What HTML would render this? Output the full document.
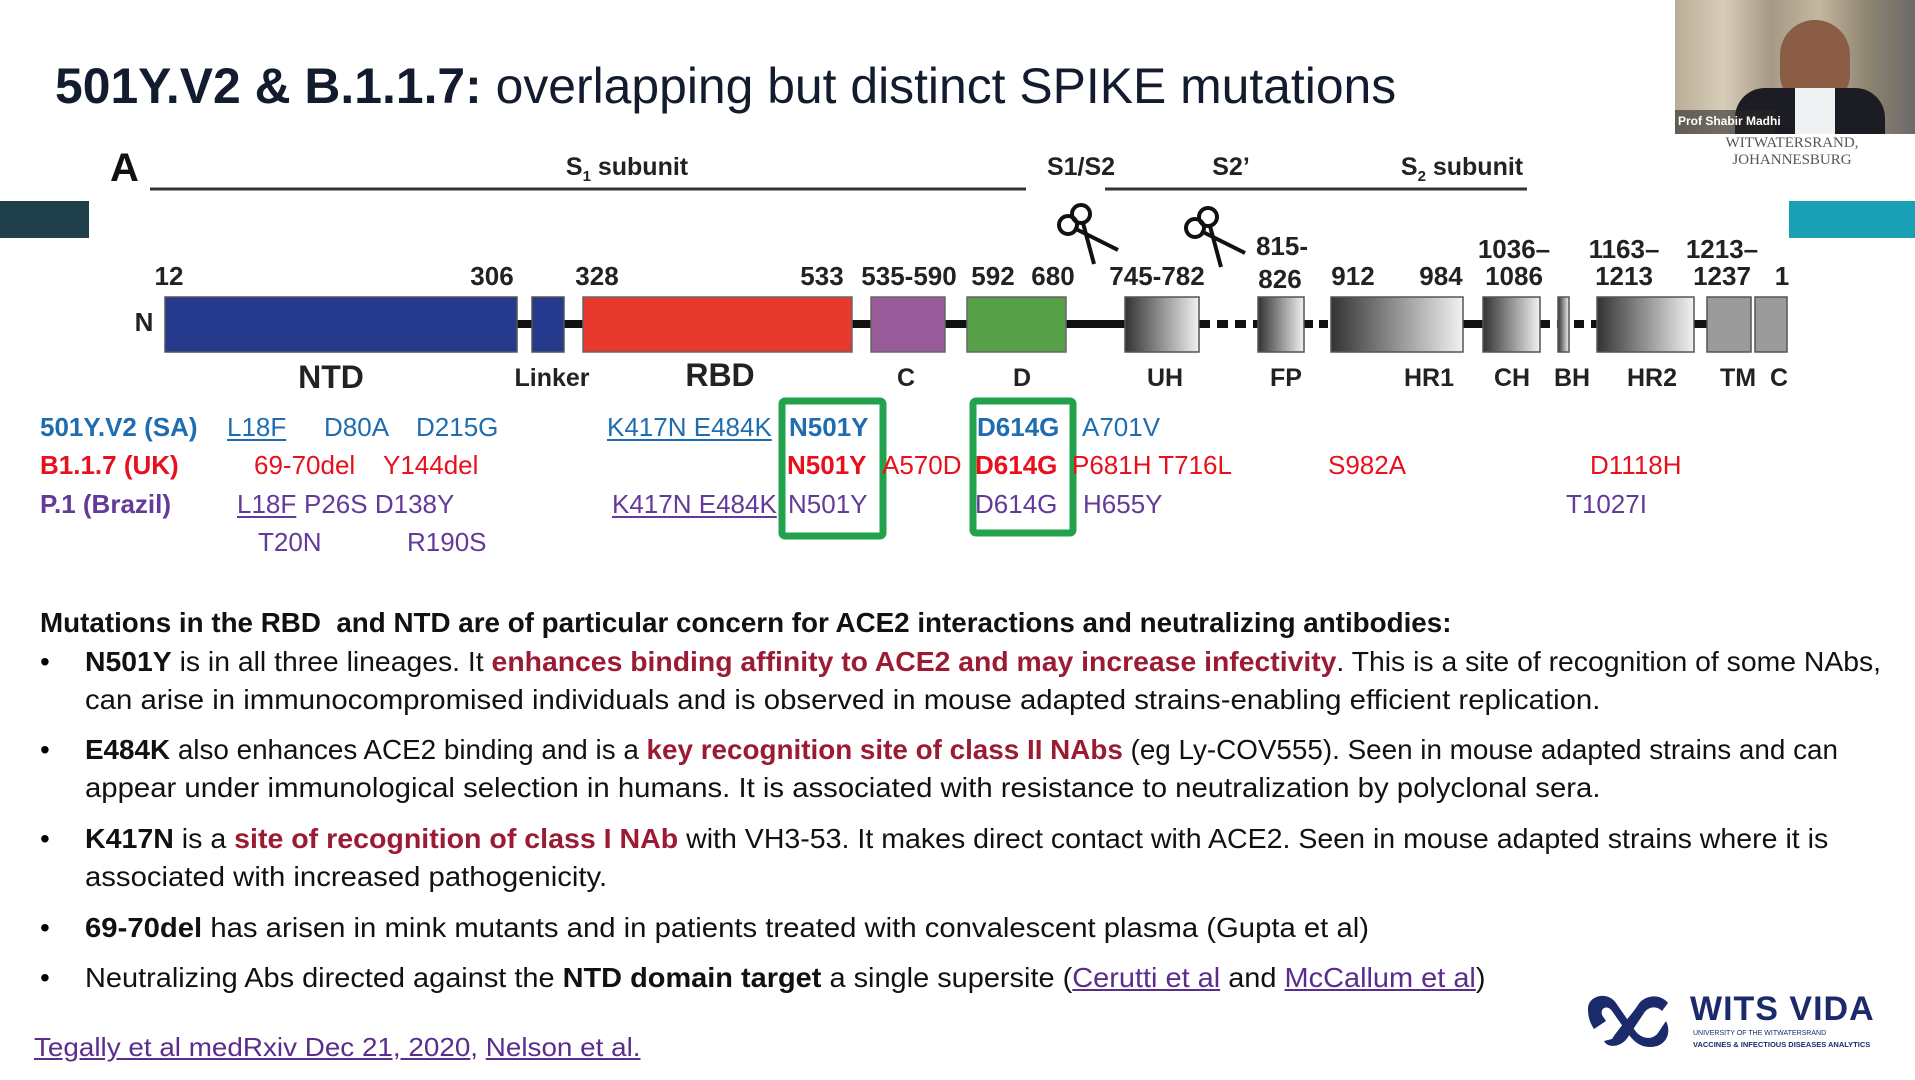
<!DOCTYPE html>
<html><head><meta charset="utf-8">
<style>
html,body{margin:0;padding:0;background:#fff;}
body{width:1915px;height:1080px;position:relative;overflow:hidden;font-family:"Liberation Sans",sans-serif;}
.a{position:absolute;white-space:nowrap;}
.fit{position:absolute;white-space:nowrap;transform-origin:0 50%;}
.m{position:absolute;white-space:nowrap;font-size:26px;line-height:30px;}
.sa{color:#1f6db0}.uk{color:#e8101c}.br{color:#643a98}
.u{text-decoration:underline;text-underline-offset:3px;}
.b{font-weight:bold}
.body{font-size:28px;line-height:34px;color:#111;}
.dr{color:#9b1b33;font-weight:bold}
.bul{position:absolute;left:40px;font-size:28px;line-height:34px;}
.lnk{color:#5a2d8c;text-decoration:underline;}
</style></head><body>

<div class="fit" id="title" style="left:55px;top:58px;font-size:50px;line-height:56px;color:#131c2e;--w:1341px"><b>501Y.V2 &amp; B.1.1.7:</b> overlapping but distinct SPIKE mutations</div>

<div class="a" style="left:0;top:201px;width:89px;height:37px;background:#1f3f4a"></div>
<div class="a" style="left:1789px;top:201px;width:126px;height:37px;background:#1aa0b5"></div>

<!-- video -->
<div class="a" style="left:1675px;top:0;width:240px;height:134px;background:linear-gradient(90deg,#b9ad97 0%,#d8cdb8 20%,#a69a86 40%,#c4b7a0 60%,#8e8470 80%,#6b6a6a 100%)"></div>
<div class="a" style="left:1780px;top:20px;width:70px;height:85px;border-radius:35px 35px 30px 30px;background:#8a5d44"></div>
<div class="a" style="left:1735px;top:88px;width:150px;height:46px;border-radius:30px 30px 0 0;background:#1c1d24"></div>
<div class="a" style="left:1795px;top:88px;width:40px;height:46px;background:#eef0f2"></div>
<div class="a" style="left:1675px;top:110px;width:100px;height:24px;background:rgba(40,40,40,.6)"></div>
<div class="a" style="left:1678px;top:114px;font-size:12px;font-weight:bold;color:#fff">Prof Shabir Madhi</div>
<div class="a" style="left:1712px;top:135px;font-family:'Liberation Serif',serif;font-size:15px;color:#555;line-height:17px;text-align:center;width:160px">WITWATERSRAND,<br>JOHANNESBURG</div>

<svg class="a" style="left:0;top:0" width="1915" height="560" viewBox="0 0 1915 560">
<defs>
<linearGradient id="g" x1="0" x2="1" y1="0" y2="0"><stop offset="0" stop-color="#333"/><stop offset="1" stop-color="#f2f2f2"/></linearGradient>
</defs>
<text x="110" y="181" font-family="Liberation Sans" font-weight="bold" font-size="40" fill="#111">A</text>
<line x1="150" y1="189" x2="1026" y2="189" stroke="#333" stroke-width="3"/>
<line x1="1105" y1="189" x2="1527" y2="189" stroke="#333" stroke-width="3"/>
<g font-family="Liberation Sans" font-weight="bold" font-size="25" fill="#222" text-anchor="middle">
<text x="627" y="175">S<tspan font-size="15" dy="6">1</tspan><tspan dy="-6"> subunit</tspan></text>
<text x="1081" y="175">S1/S2</text>
<text x="1231" y="175">S2’</text>
<text x="1462" y="175">S<tspan font-size="15" dy="6">2</tspan><tspan dy="-6"> subunit</tspan></text>
</g>
<!-- backbone -->
<line x1="517" y1="324" x2="1125" y2="324" stroke="#111" stroke-width="8"/>
<line x1="1199" y1="324" x2="1258" y2="324" stroke="#111" stroke-width="8" stroke-dasharray="11,7"/>
<line x1="1304" y1="324" x2="1331" y2="324" stroke="#111" stroke-width="8" stroke-dasharray="9,6"/>
<line x1="1463" y1="324" x2="1483" y2="324" stroke="#111" stroke-width="8"/>
<line x1="1540" y1="324" x2="1597" y2="324" stroke="#111" stroke-width="8" stroke-dasharray="10,7"/>
<line x1="1694" y1="324" x2="1707" y2="324" stroke="#111" stroke-width="8"/>
<!-- domains -->
<rect x="165" y="297" width="352" height="55" fill="#253a8c" stroke="#555" stroke-width="1.5"/>
<rect x="532" y="297" width="32" height="55" fill="#253a8c" stroke="#555" stroke-width="1.5"/>
<rect x="583" y="297" width="269" height="55" fill="#e8392e" stroke="#666" stroke-width="1.5"/>
<rect x="871" y="297" width="74" height="55" fill="#9a5b9b" stroke="#666" stroke-width="1.5"/>
<rect x="967" y="297" width="99" height="55" fill="#56a047" stroke="#666" stroke-width="1.5"/>
<g fill="url(#g)" stroke="#555" stroke-width="1.5">
<rect x="1125" y="297" width="74" height="55"/>
<rect x="1258" y="297" width="46" height="55"/>
<rect x="1331" y="297" width="132" height="55"/>
<rect x="1483" y="297" width="57" height="55"/>
<rect x="1558" y="297" width="11" height="55"/>
<rect x="1597" y="297" width="97" height="55"/>
</g>
<rect x="1707" y="297" width="44" height="55" fill="#9b9b9b" stroke="#555" stroke-width="1.5"/>
<rect x="1755" y="297" width="32" height="55" fill="#9b9b9b" stroke="#555" stroke-width="1.5"/>
<!-- numbers -->
<g font-family="Liberation Sans" font-weight="bold" font-size="26" fill="#222" text-anchor="middle">
<text x="169" y="285">12</text><text x="492" y="285">306</text><text x="597" y="285">328</text>
<text x="822" y="285">533</text><text x="909" y="285">535-590</text><text x="993" y="285">592</text>
<text x="1053" y="285">680</text><text x="1157" y="285">745-782</text>
<text x="1282" y="255">815-</text><text x="1280" y="288">826</text>
<text x="1353" y="285">912</text><text x="1441" y="285">984</text>
<text x="1514" y="258">1036–</text><text x="1514" y="285">1086</text>
<text x="1624" y="258">1163–</text><text x="1624" y="285">1213</text>
<text x="1722" y="258">1213–</text><text x="1722" y="285">1237</text>
<text x="1782" y="285">1</text>
<text x="144" y="331">N</text>
<text x="331" y="388" font-size="32">NTD</text>
<text x="552" y="386" font-size="25">Linker</text>
<text x="720" y="386" font-size="32">RBD</text>
<text x="906" y="386" font-size="25">C</text><text x="1022" y="386" font-size="25">D</text>
<text x="1165" y="386" font-size="25">UH</text><text x="1286" y="386" font-size="25">FP</text>
<text x="1429" y="386" font-size="25">HR1</text><text x="1512" y="386" font-size="25">CH</text>
<text x="1572" y="386" font-size="25">BH</text><text x="1652" y="386" font-size="25">HR2</text>
<text x="1738" y="386" font-size="25">TM</text><text x="1779" y="386" font-size="25">C</text>
</g>
<!-- scissors -->
<g fill="none" stroke="#111" stroke-width="4">
<circle cx="1068" cy="225" r="9"/><circle cx="1081" cy="214" r="9"/>
<line x1="1074" y1="228" x2="1118" y2="250"/><line x1="1083" y1="223" x2="1094" y2="264"/>
<circle cx="1195" cy="228" r="9"/><circle cx="1208" cy="217" r="9"/>
<line x1="1201" y1="231" x2="1245" y2="253"/><line x1="1210" y1="226" x2="1221" y2="267"/>
</g>
<!-- green boxes -->
<rect x="782" y="401" width="101" height="135" fill="none" stroke="#22a24a" stroke-width="7" rx="3"/>
<rect x="973" y="401" width="100" height="132" fill="none" stroke="#22a24a" stroke-width="7" rx="3"/>
</svg>

<!-- mutation rows -->
<div class="m sa b" style="left:40px;top:412px">501Y.V2 (SA)</div>
<div class="m sa u" style="left:227px;top:412px">L18F</div>
<div class="m sa" style="left:324px;top:412px">D80A</div>
<div class="m sa" style="left:416px;top:412px">D215G</div>
<div class="m sa u" style="left:607px;top:412px">K417N E484K</div>
<div class="m sa b" style="left:789px;top:412px">N501Y</div>
<div class="m sa b" style="left:977px;top:412px">D614G</div>
<div class="m sa" style="left:1082px;top:412px">A701V</div>

<div class="m uk b" style="left:40px;top:450px">B1.1.7 (UK)</div>
<div class="m uk" style="left:254px;top:450px">69-70del</div>
<div class="m uk" style="left:383px;top:450px">Y144del</div>
<div class="m uk b" style="left:787px;top:450px">N501Y</div>
<div class="m uk" style="left:882px;top:450px">A570D</div>
<div class="m uk b" style="left:975px;top:450px">D614G</div>
<div class="m uk" style="left:1072px;top:450px">P681H T716L</div>
<div class="m uk" style="left:1328px;top:450px">S982A</div>
<div class="m uk" style="left:1590px;top:450px">D1118H</div>

<div class="m br b" style="left:40px;top:489px">P.1 (Brazil)</div>
<div class="m br u" style="left:237px;top:489px">L18F</div>
<div class="m br" style="left:304px;top:489px">P26S D138Y</div>
<div class="m br u" style="left:612px;top:489px">K417N E484K</div>
<div class="m br" style="left:788px;top:489px">N501Y</div>
<div class="m br" style="left:975px;top:489px">D614G</div>
<div class="m br" style="left:1083px;top:489px">H655Y</div>
<div class="m br" style="left:1566px;top:489px">T1027I</div>
<div class="m br" style="left:258px;top:527px">T20N</div>
<div class="m br" style="left:407px;top:527px">R190S</div>

<!-- body -->
<div class="fit body b" style="left:40px;top:606px;--w:1411px">Mutations in the RBD&nbsp; and NTD are of particular concern for ACE2 interactions and neutralizing antibodies:</div>
<div class="bul" style="top:645px">•</div>
<div class="fit body" style="left:85px;top:645px;--w:1796px"><b>N501Y</b> is in all three lineages. It <span class="dr">enhances binding affinity to ACE2 and may increase infectivity</span>. This is a site of recognition of some NAbs,</div>
<div class="fit body" style="left:85px;top:683px;--w:1515px">can arise in immunocompromised individuals and is observed in mouse adapted strains-enabling efficient replication.</div>
<div class="bul" style="top:733px">•</div>
<div class="fit body" style="left:85px;top:733px;--w:1753px"><b>E484K</b> also enhances ACE2 binding and is a <span class="dr">key recognition site of class II NAbs</span> (eg Ly-COV555). Seen in mouse adapted strains and can</div>
<div class="fit body" style="left:85px;top:771px;--w:1515px">appear under immunological selection in humans. It is associated with resistance to neutralization by polyclonal sera.</div>
<div class="bul" style="top:822px">•</div>
<div class="fit body" style="left:85px;top:822px;--w:1743px"><b>K417N</b> is a <span class="dr">site of recognition of class I NAb</span> with VH3-53. It makes direct contact with ACE2. Seen in mouse adapted strains where it is</div>
<div class="fit body" style="left:85px;top:860px;--w:522px">associated with increased pathogenicity.</div>
<div class="bul" style="top:911px">•</div>
<div class="fit body" style="left:85px;top:911px;--w:1284px"><b>69-70del</b> has arisen in mink mutants and in patients treated with convalescent plasma (Gupta et al)</div>
<div class="bul" style="top:961px">•</div>
<div class="fit body" style="left:85px;top:961px;--w:1401px">Neutralizing Abs directed against the <b>NTD domain target</b> a single supersite (<span class="lnk">Cerutti et al</span> and <span class="lnk">McCallum et al</span>)</div>

<div class="fit" style="left:34px;top:1032px;font-size:26px;line-height:30px;color:#5a2d8c;--w:607px"><span class="lnk">Tegally et al medRxiv Dec 21, 2020</span>, <span class="lnk">Nelson et al.</span></div>

<!-- logo -->
<svg class="a" style="left:1582px;top:989px" width="92" height="62" viewBox="0 0 92 62">
<path d="M6 20 C6 6 26 2 34 14 L52 40 C58 50 70 52 76 44 L84 32 C90 44 84 58 68 58 C56 58 50 50 44 42 L30 22 C26 16 18 18 20 26 L24 32 L12 40 C8 34 6 28 6 20Z" fill="#1b2a6b"/>
<path d="M30 50 C36 40 48 28 56 16 C62 6 78 4 86 14 L80 22 C74 16 66 18 62 24 L46 48 C40 58 26 60 22 52Z" fill="#1b2a6b"/>
</svg>
<div class="a" style="left:1690px;top:990px;font-size:34px;font-weight:bold;color:#1b2a6b;letter-spacing:1px">WITS VIDA</div>
<div class="a" style="left:1693px;top:1030px;font-size:7px;color:#1b2a6b">UNIVERSITY OF THE WITWATERSRAND</div>
<div class="a" style="left:1693px;top:1040px;font-size:7.5px;font-weight:bold;color:#1b2a6b">VACCINES &amp; INFECTIOUS DISEASES ANALYTICS</div>

<script>
document.querySelectorAll('.fit').forEach(function(e){
 var w=parseFloat(getComputedStyle(e).getPropertyValue('--w'));
 var a=e.scrollWidth; if(w&&a){e.style.transform='scaleX('+(w/a)+')';}
});
</script>
</body></html>
